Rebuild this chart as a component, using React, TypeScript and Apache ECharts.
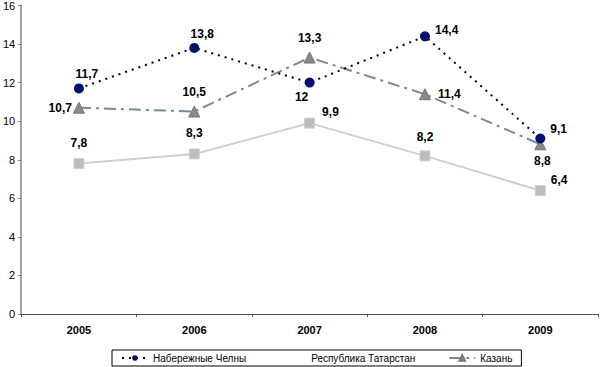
import React, { useEffect, useRef } from "react";
import * as echarts from "echarts";

const categories = ["2005", "2006", "2007", "2008", "2009"];
const chelny = [11.7, 13.8, 12, 14.4, 9.1];
const tatarstan = [7.8, 8.3, 9.9, 8.2, 6.4];
const kazan = [10.7, 10.5, 13.3, 11.4, 8.8];
const yTicks = { min: 0, max: 16, interval: 2 };

const fmt = (v: number) => String(v).replace(".", ",");

const labelBase = {
  show: true,
  color: "#000",
  fontFamily: "Liberation Sans, Arial, sans-serif",
  fontWeight: "bold" as const,
  fontSize: 12,
  formatter: (p: any) => fmt(p.value),
};

export default function App() {
  const ref = useRef<HTMLDivElement>(null);
  useEffect(() => {
    const chart = echarts.init(ref.current!, null, { renderer: "svg" });
    const chelnyLabels = [
      { position: "top", offset: [8, 2] },
      { position: "top", offset: [8, 2] },
      { position: "bottom", offset: [-8, -2] },
      { position: "right", offset: [0, -6] },
      { position: "right", offset: [0, -10] },
    ];
    const kazanLabels = [
      { position: "left", offset: [4, 0] },
      { position: "top", offset: [0, -3] },
      { position: "top", offset: [0, -3] },
      { position: "right", offset: [2, 0] },
      { position: "bottom", offset: [2, 0] },
    ];
    const tatLabels = [
      { position: "top", offset: [0, -4] },
      { position: "top", offset: [0, -4] },
      { position: "right", offset: [2, -11] },
      { position: "top", offset: [0, -2] },
      { position: "right", offset: [0, -11] },
    ];
    chart.setOption({
      animation: false,
      backgroundColor: "#fff",
      textStyle: { fontFamily: "Liberation Sans, Arial, sans-serif" },
      grid: { left: 21, right: 2, top: 4, bottom: 53, containLabel: false },
      legend: {
        bottom: 1,
        left: 112,
        itemGap: 33,
        padding: [3, 9, 3, 9],
        borderColor: "#000",
        borderWidth: 1,
        itemWidth: 26,
        itemHeight: 7,
        textStyle: { fontSize: 10, color: "#000", fontFamily: "Liberation Sans, Arial, sans-serif" },
        data: [
          { name: "Набережные Челны" },
          { name: "Республика Татарстан", itemStyle: { opacity: 0 }, lineStyle: { opacity: 0 } },
          { name: "Казань" },
        ],
      },
      xAxis: {
        type: "category",
        data: categories,
        boundaryGap: true,
        axisLine: { lineStyle: { color: "#555", width: 1 } },
        axisTick: { show: true, length: 3, lineStyle: { color: "#555" } },
        axisLabel: { fontWeight: "bold", fontSize: 11, color: "#000", margin: 10 },
      },
      yAxis: {
        type: "value",
        min: yTicks.min,
        max: yTicks.max,
        interval: yTicks.interval,
        axisLine: { show: true, lineStyle: { color: "#a8a09c", width: 2 } },
        axisTick: { show: true, length: 3, lineStyle: { color: "#777" } },
        splitLine: { show: false },
        axisLabel: { fontSize: 11, color: "#000", margin: 6 },
      },
      series: [
        {
          name: "Набережные Челны",
          type: "line",
          data: chelny.map((v, i) => ({ value: v, label: chelnyLabels[i] })),
          symbol: "circle",
          symbolSize: 10,
          itemStyle: { color: "#001070" },
          lineStyle: { color: "#000", width: 2, type: [2, 5] },
          label: labelBase,
          z: 4,
        },
        {
          name: "Республика Татарстан",
          type: "line",
          data: tatarstan.map((v, i) => ({ value: v, label: tatLabels[i] })),
          symbol: "rect",
          symbolSize: 10,
          itemStyle: { color: "#bdbdbd", borderColor: "#d0d0d0", borderWidth: 1 },
          lineStyle: { color: "#cfcfcf", width: 2 },
          label: labelBase,
          z: 2,
        },
        {
          name: "Казань",
          type: "line",
          data: kazan.map((v, i) => ({ value: v, label: kazanLabels[i] })),
          symbol: "triangle",
          symbolSize: 11,
          itemStyle: { color: "#8a8a8a", borderColor: "#777", borderWidth: 1 },
          lineStyle: { color: "#7a879c", width: 2, type: [12, 5, 3, 5] },
          label: labelBase,
          z: 3,
        },
      ],
    });
    return () => chart.dispose();
  }, []);
  return <div ref={ref} style={{ width: 600, height: 367, position: "absolute", left: 0, top: 0 }} />;
}
